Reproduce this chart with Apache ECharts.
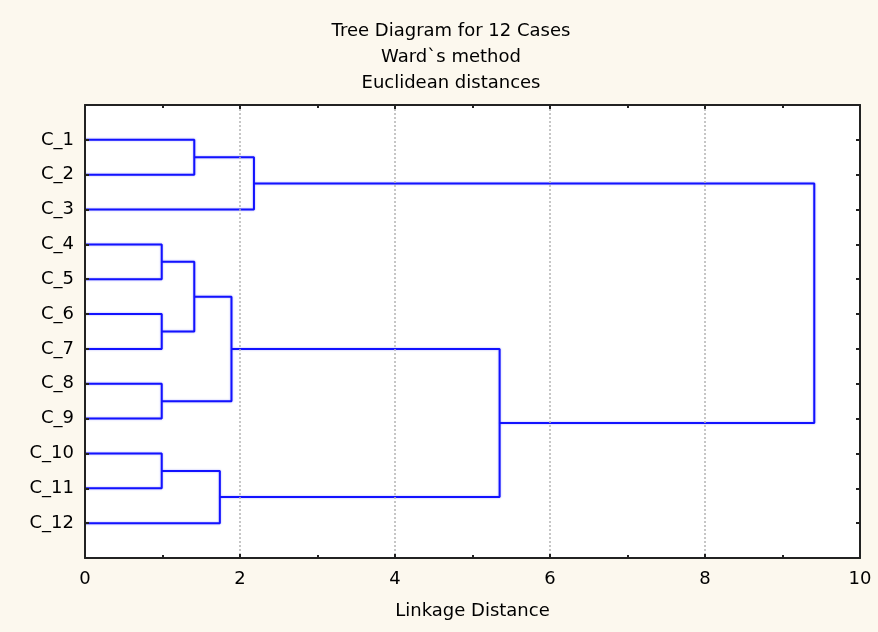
<!DOCTYPE html>
<html>
<head>
<meta charset="utf-8">
<script src="https://cdn.jsdelivr.net/npm/echarts@6/dist/echarts.min.js"></script>
<style>
  html, body { margin: 0; padding: 0; background: #fcf8ee; }
  #chart { width: 878px; height: 632px; }
</style>
</head>
<body>
<div id="chart"></div>
<script>
// Leaves (cases), top to bottom
var categories = ['C_1','C_2','C_3','C_4','C_5','C_6','C_7','C_8','C_9','C_10','C_11','C_12'];
// Merge steps: cluster ids 0..11 are leaves, each merge creates id 12, 13, ...
var mergeLeft  = [0, 3, 5, 7, 9, 12, 13, 18, 16, 19, 17];
var mergeRight = [1, 4, 6, 8, 10, 2, 14, 15, 11, 20, 21];
var mergeDist  = [1.41, 0.99, 0.99, 0.99, 0.99, 2.18, 1.41, 1.89, 1.74, 5.35, 9.41];
var xTicks = [0, 2, 4, 6, 8, 10];

var FONT = 'DejaVu Sans';
var nodeX = [], nodeY = [];
categories.forEach(function (c, i) { nodeX.push(0); nodeY.push(i + 1); });

var series = [];
for (var k = 0; k < mergeDist.length; k++) {
  var a = mergeLeft[k], b = mergeRight[k], d = mergeDist[k];
  series.push({
    type: 'line',
    xAxisIndex: 0, yAxisIndex: 0,
    symbol: 'none',
    silent: true,
    z: 3,
    lineStyle: { color: '#1212ff', width: 2, shadowBlur: 2, shadowColor: 'rgba(60,60,255,0.45)' },
    data: [[nodeX[a], nodeY[a]], [d, nodeY[a]], [d, nodeY[b]], [nodeX[b], nodeY[b]]]
  });
  nodeX.push(d);
  nodeY.push((nodeY[a] + nodeY[b]) / 2);
}

var chart = echarts.init(document.getElementById('chart'), null, { renderer: 'canvas' });
var axisLineStyle = { color: '#222', width: 2 };
var tickStyle = { color: '#222', width: 2 };
chart.setOption({
  animation: false,
  backgroundColor: '#fcf8ee',
  title: {
    text: 'Tree Diagram for 12 Cases\nWard`s method\nEuclidean distances',
    left: 446, top: 13,
    textAlign: 'center',
    textStyle: { fontFamily: FONT, fontSize: 18, fontWeight: 'normal', color: '#000', lineHeight: 26 }
  },
  grid: {
    left: 85, right: 18, top: 105, bottom: 74,
    show: true, backgroundColor: '#ffffff', borderWidth: 0, z: 0
  },
  xAxis: [{
    type: 'value', position: 'bottom', z: 10,
    min: xTicks[0], max: xTicks[xTicks.length - 1], interval: 2,
    name: 'Linkage Distance', nameLocation: 'middle', nameGap: 44,
    nameTextStyle: { fontFamily: FONT, fontSize: 18, color: '#000' },
    axisLine: { show: true, onZero: false, lineStyle: axisLineStyle },
    axisTick: { show: true, inside: true, length: 4, lineStyle: tickStyle },
    minorTick: { show: true, splitNumber: 2, length: 3, lineStyle: tickStyle },
    axisLabel: { fontFamily: FONT, fontSize: 18, color: '#000', margin: 12 },
    splitLine: { show: true, lineStyle: { color: '#b4b4b4', type: [2, 2], width: 1.5 } }
  }, {
    type: 'value', position: 'top', z: 10, show: true,
    min: xTicks[0], max: xTicks[xTicks.length - 1], interval: 2,
    axisLine: { show: true, onZero: false, lineStyle: axisLineStyle },
    axisTick: { show: true, inside: true, length: 4, lineStyle: tickStyle },
    minorTick: { show: true, splitNumber: 2, length: 3, lineStyle: tickStyle },
    axisLabel: { show: true, color: 'rgba(0,0,0,0)', fontSize: 10, formatter: function () { return ''; } },
    splitLine: { show: false }
  }],
  yAxis: [{
    type: 'value', position: 'left', inverse: true, z: 10,
    min: 0, max: categories.length + 1, interval: 1,
    axisLine: { show: true, onZero: false, lineStyle: axisLineStyle },
    axisTick: { show: true, inside: true, length: 4, lineStyle: tickStyle },
    axisLabel: {
      fontFamily: FONT, fontSize: 18, color: '#000', margin: 11,
      formatter: function (v) { return (v >= 1 && v <= categories.length) ? categories[v - 1] : ''; }
    },
    splitLine: { show: false }
  }, {
    type: 'value', position: 'right', inverse: true, z: 10,
    min: 0, max: categories.length + 1, interval: 1,
    axisLine: { show: true, onZero: false, lineStyle: axisLineStyle },
    axisTick: { show: true, inside: true, length: 4, lineStyle: tickStyle },
    axisLabel: { show: false },
    splitLine: { show: false }
  }],
  series: series
});
</script>
</body>
</html>
